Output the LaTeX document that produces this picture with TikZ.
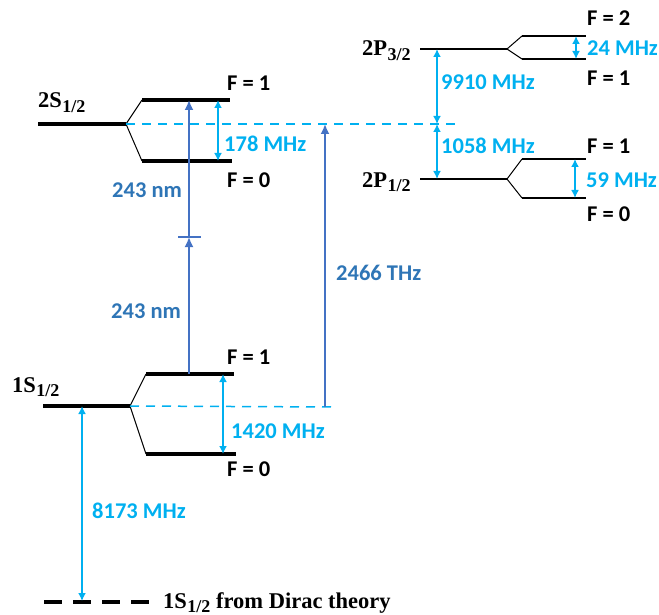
\documentclass[tikz,border=0pt]{standalone}
\usepackage{fontspec}
\setmainfont{Liberation Serif}
\newfontfamily\calib{Carlito}
\usetikzlibrary{arrows.meta}
\definecolor{lb}{HTML}{00B0F0}
\definecolor{db}{HTML}{2E75B6}
\definecolor{mb}{HTML}{4472C4}
\newcommand{\sublbl}[1]{\kern0.5pt\raisebox{-0.4ex}{\fontsize{18}{18}\selectfont #1}}
\begin{document}
\begin{tikzpicture}[x=1pt,y=-1pt,
  lvS/.style={line width=4.5pt},
  lvP/.style={line width=2.7pt},
  splitln/.style={line width=1pt},
  hfs/.style={lb,line width=1.8pt,{Latex[length=8pt,width=8pt]}-{Latex[length=8pt,width=8pt]}},
  laser/.style={mb,line width=1.8pt,-{Latex[length=10pt,width=9pt]}},
  refline/.style={lb,line width=1.5pt,dash pattern=on 9pt off 7pt},
  dirac/.style={line width=4pt,dash pattern=on 18pt off 11pt},
  flbl/.style={anchor=base west,inner sep=0pt,font=\calib\bfseries\fontsize{22.5}{26}\selectfont},
  mhz/.style={flbl,text=lb},
  nmlbl/.style={flbl,text=db},
  state/.style={anchor=base west,inner sep=0pt,font=\bfseries\fontsize{22.5}{26}\selectfont}]
\useasboundingbox (0,0) rectangle (659,615);

% ---------- 2S1/2 ----------
\coordinate (s2L) at (38,124); \coordinate (s2R) at (126,124);
\coordinate (s2aL) at (142,100); \coordinate (s2aR) at (230,100);
\coordinate (s2bL) at (142,161); \coordinate (s2bR) at (232,161);
\draw[lvS] (s2L) -- (s2R);
\draw[splitln] (s2aL) -- (s2R) -- (s2bL);
\draw[lvS] (s2aL) -- (s2aR);
\draw[lvS] (s2bL) -- (s2bR);
\node[state] (l2s) at (38,108) {2S\sublbl{1/2}};
\node[flbl] (f2s1) at (227,91) {F = 1};
\node[flbl] (f2s0) at (227,188) {F = 0};

% ---------- 1S1/2 ----------
\coordinate (s1L) at (43,406); \coordinate (s1R) at (130,406);
\coordinate (s1aL) at (146,374); \coordinate (s1aR) at (234,374);
\coordinate (s1bL) at (146,454); \coordinate (s1bR) at (236,454);
\draw[lvS] (s1L) -- (s1R);
\draw[splitln] (s1aL) -- (s1R) -- (s1bL);
\draw[lvS] (s1aL) -- (s1aR);
\draw[lvS] (s1bL) -- (s1bR);
\node[state] (l1s) at (12,392) {1S\sublbl{1/2}};
\node[flbl] (f1s1) at (227,364) {F = 1};
\node[flbl] (f1s0) at (227,476) {F = 0};

% ---------- 2P3/2 ----------
\coordinate (p3L) at (420,49); \coordinate (p3R) at (507,49);
\coordinate (p3aL) at (522,36); \coordinate (p3aR) at (586,36);
\coordinate (p3bL) at (522,59); \coordinate (p3bR) at (586,59);
\draw[lvP] (p3L) -- (p3R);
\draw[splitln] (p3aL) -- (p3R) -- (p3bL);
\draw[lvP] (p3aL) -- (p3aR);
\draw[lvP] (p3bL) -- (p3bR);
\node[state] (l2p3) at (362,56) {2P\sublbl{3/2}};
\node[flbl] (fp32) at (587,26) {F = 2};
\node[flbl] (fp31) at (587,86) {F = 1};

% ---------- 2P1/2 ----------
\coordinate (p1L) at (420,179); \coordinate (p1R) at (507,179);
\coordinate (p1aL) at (522,159); \coordinate (p1aR) at (586,159);
\coordinate (p1bL) at (522,198); \coordinate (p1bR) at (586,198);
\draw[lvP] (p1L) -- (p1R);
\draw[splitln] (p1aL) -- (p1R) -- (p1bL);
\draw[lvP] (p1aL) -- (p1aR);
\draw[lvP] (p1bL) -- (p1bR);
\node[state] (l2p1) at (362,187) {2P\sublbl{1/2}};
\node[flbl] (fp11) at (587,154) {F = 1};
\node[flbl] (fp10) at (587,222) {F = 0};

% ---------- Dirac level ----------
\coordinate (dL) at (44,602); \coordinate (dR) at (150,602);
\draw[dirac] (dL) -- (dR);
\node[state] (ldirac) at (163,608) {1S\sublbl{1/2} from Dirac theory};

% ---------- reference dashed lines ----------
\coordinate (r2e) at (458,124);
\coordinate (r1e) at (333,407);
\draw[refline] (s2R) -- (r2e);
\draw[refline] (s1R) -- (r1e);

% ---------- hyperfine / interval arrows ----------
\coordinate (h178t) at (218,100); \coordinate (h178b) at (218,161);
\draw[hfs] (h178t) -- (h178b);
\node[mhz] (t178) at (224,152) {178 MHz};

\coordinate (h1420t) at (223,374); \coordinate (h1420b) at (223,454);
\draw[hfs] (h1420t) -- (h1420b);
\node[mhz] (t1420) at (231,438) {1420 MHz};

\coordinate (h8173t) at (82,406); \coordinate (h8173b) at (82,601);
\draw[hfs] (h8173t) -- (h8173b);
\node[mhz] (t8173) at (92,518) {8173 MHz};

\coordinate (h24t) at (576,36); \coordinate (h24b) at (576,59);
\draw[hfs] (h24t) -- (h24b);
\node[mhz] (t24) at (587,56) {24 MHz};

\coordinate (h59t) at (575,159); \coordinate (h59b) at (575,198);
\draw[hfs] (h59t) -- (h59b);
\node[mhz] (t59) at (586,188) {59 MHz};

\coordinate (h9910t) at (437,49); \coordinate (hmid) at (437,124); \coordinate (h1058b) at (437,179);
\draw[hfs] (h9910t) -- (hmid);
\draw[hfs] (hmid) -- (h1058b);
\node[mhz] (t9910) at (441,90) {9910 MHz};
\node[mhz] (t1058) at (441,154) {1058 MHz};

% ---------- laser arrows ----------
\coordinate (l243a) at (189,374); \coordinate (l243m) at (189,237); \coordinate (l243b) at (189,100);
\coordinate (barL) at (178,237); \coordinate (barR) at (201,237);
\draw[laser] (l243a) -- (l243m);
\draw[mb,line width=1.8pt] (barL) -- (barR);
\draw[laser] (l243m) -- (l243b);
\node[nmlbl] (t243a) at (112,197) {243 nm};
\node[nmlbl] (t243b) at (111,318) {243 nm};

\coordinate (l2466a) at (325,407); \coordinate (l2466b) at (325,124);
\draw[laser] (l2466a) -- (l2466b);
\node[nmlbl] (t2466) at (336,280) {2466 THz};
\end{tikzpicture}
\end{document}
